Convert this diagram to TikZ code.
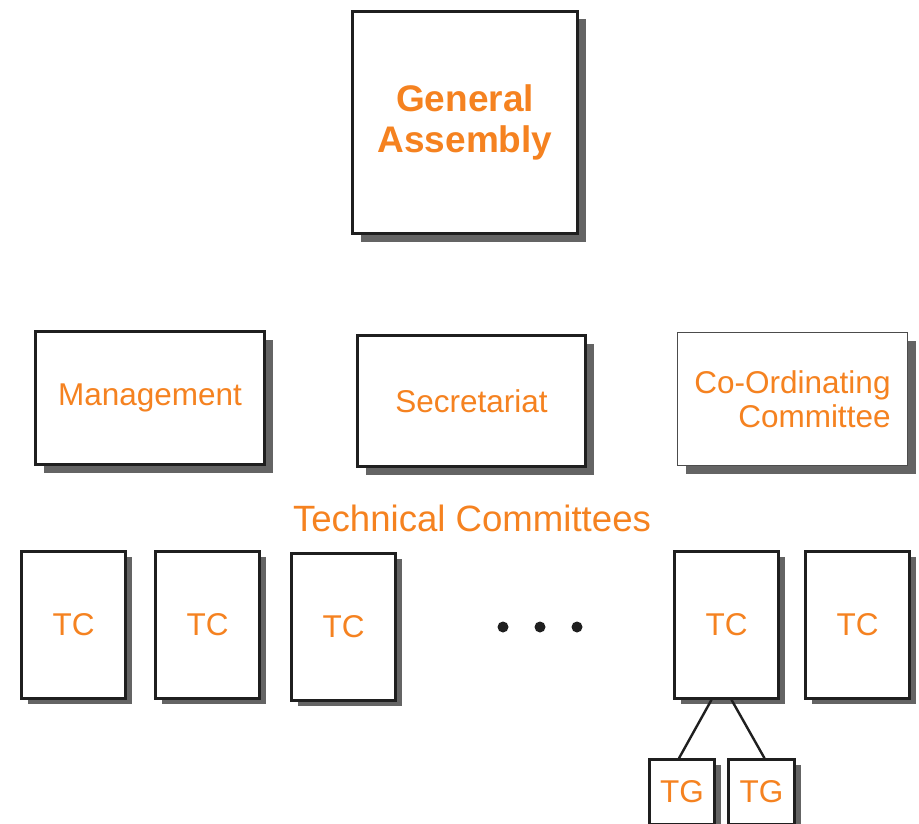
\documentclass[tikz,border=0pt]{standalone}
\usepackage{fontspec}
\setmainfont{Liberation Sans}
\usetikzlibrary{shadows}
\definecolor{orgorange}{RGB}{245,130,32}
\definecolor{shadowgray}{RGB}{100,100,100}
\begin{document}
\begin{tikzpicture}[x=1pt,y=-1pt,
    basebox/.style={draw=black!88,line width=2.6pt,fill=white,inner sep=0pt,text=orgorange,align=center,font=\fontsize{31.5}{34}\selectfont},
    bigbox/.style={basebox,minimum width=229pt,minimum height=132pt,drop shadow={shadow xshift=8pt,shadow yshift=-8pt,fill=shadowgray,opacity=1}},
    tcbox/.style={basebox,minimum width=104pt,minimum height=147pt,drop shadow={shadow xshift=6pt,shadow yshift=-5pt,fill=shadowgray,opacity=1}},
    tgbox/.style={basebox,minimum width=65pt,minimum height=65pt,drop shadow={shadow xshift=6pt,shadow yshift=-5pt,fill=shadowgray,opacity=1}}]
  \useasboundingbox (0,0) rectangle (919,824);
  \node[bigbox,minimum width=225pt,minimum height=222pt,font=\bfseries\fontsize{37}{41}\selectfont] (assembly) at (465,122.5) {General\\Assembly};
  \node[bigbox,minimum height=133pt] (management) at (150,398) {Management};
  \node[bigbox,minimum width=228pt,minimum height=131pt] (secretariat) at (471.5,401) {Secretariat};
  \node[bigbox,draw=black!70,line width=1.2pt,minimum width=230pt,minimum height=133pt,align=right] (coord) at (792.5,399) {Co-Ordinating\\Committee};
  \node[text=orgorange,font=\fontsize{36.6}{40}\selectfont] (techlabel) at (472,518) {Technical Committees};
  \node[tcbox] (tc1) at (73.5,625) {TC};
  \node[tcbox] (tc2) at (207.5,625) {TC};
  \node[tcbox] (tc3) at (343.5,627) {TC};
  \node[tcbox] (tc4) at (726.5,625) {TC};
  \node[tcbox] (tc5) at (857.5,625) {TC};
  \foreach \x in {503,540,577}
    \fill[black!88] (\x,627) circle (5.5pt);
  \node[tgbox] (tg1) at (682,792) {TG};
  \node[tgbox,minimum width=66pt] (tg2) at (761.5,792) {TG};
  \draw[line width=2.4pt,black!88] ([xshift=-15pt]tc4.south)--([xshift=-3pt]tg1.north);
  \draw[line width=2.4pt,black!88] ([xshift=5pt]tc4.south)--([xshift=3pt]tg2.north);
\end{tikzpicture}
\end{document}
